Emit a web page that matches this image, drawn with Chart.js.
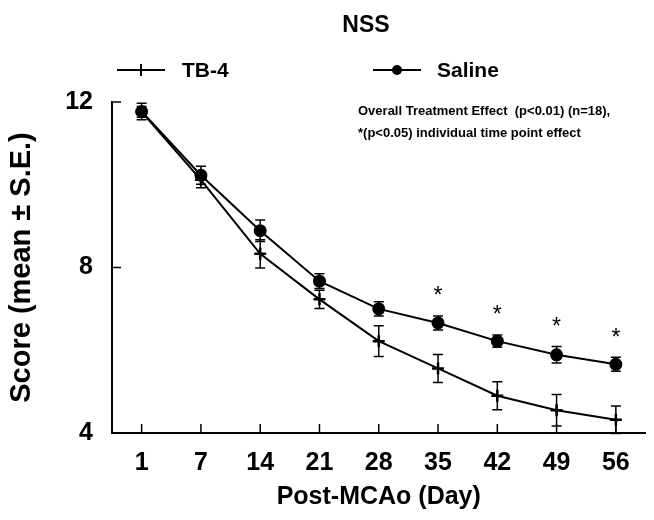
<!DOCTYPE html>
<html lang="en">
<head>
    <meta charset="UTF-8">
    <title>NSS</title>
    <script src="https://cdn.jsdelivr.net/npm/chart.js"></script>
    <style>
        body {
            margin: 0;
            background: #fff;
        }
        #nssChart {
            display: block;
        }
    </style>
</head>
<body>
    <canvas id="nssChart" width="654" height="520"></canvas>

    <script>
        // values
        const days = ['1', '7', '14', '21', '28', '35', '42', '49', '56'];
        const tb4Mean = [11.76, 10.12, 8.33, 7.23, 6.22, 5.56, 4.90, 4.55, 4.32];
        const tb4SE = [0.13, 0.19, 0.34, 0.22, 0.37, 0.34, 0.34, 0.38, 0.33];
        const salineMean = [11.77, 10.23, 8.89, 7.67, 7.00, 6.66, 6.22, 5.89, 5.66];
        const salineSE = [0.20, 0.22, 0.26, 0.18, 0.17, 0.17, 0.15, 0.20, 0.17];
        const significant = [false, false, false, false, false, true, true, true, true];
        const yTicks = [4, 8, 12];

        const FONT = "'Liberation Sans', Arial, sans-serif";

        const errorBars = {
            id: 'errorBars',
            beforeDatasetsDraw(chart) {
                const ctx = chart.ctx;
                const x = chart.scales.x, y = chart.scales.y;
                const series = [[tb4Mean, tb4SE], [salineMean, salineSE]];
                ctx.save();
                ctx.strokeStyle = '#000';
                ctx.lineWidth = 1.5;
                series.forEach(([mean, se]) => {
                    mean.forEach((m, i) => {
                        const px = x.getPixelForValue(i);
                        const top = y.getPixelForValue(m + se[i]);
                        const bot = y.getPixelForValue(m - se[i]);
                        ctx.beginPath();
                        ctx.moveTo(px, top); ctx.lineTo(px, bot);
                        ctx.moveTo(px - 5, top); ctx.lineTo(px + 5, top);
                        ctx.moveTo(px - 5, bot); ctx.lineTo(px + 5, bot);
                        ctx.stroke();
                    });
                });
                ctx.restore();
            },
            afterDraw(chart) {
                const ctx = chart.ctx;
                const x = chart.scales.x, y = chart.scales.y;
                const area = chart.chartArea;
                ctx.save();
                ctx.strokeStyle = '#000';
                ctx.fillStyle = '#000';
                ctx.lineWidth = 1.5;

                // inward tick marks
                ctx.beginPath();
                days.forEach((d, i) => {
                    const px = x.getPixelForValue(i);
                    ctx.moveTo(px, area.bottom); ctx.lineTo(px, area.bottom - 9);
                });
                yTicks.forEach(v => {
                    const py = y.getPixelForValue(v);
                    ctx.moveTo(area.left, py); ctx.lineTo(area.left + 9, py);
                });
                ctx.stroke();

                // asterisks over saline
                ctx.font = '23px ' + FONT;
                ctx.textAlign = 'center';
                ctx.textBaseline = 'middle';
                significant.forEach((s, i) => {
                    if (!s) return;
                    const px = x.getPixelForValue(i);
                    const py = y.getPixelForValue(salineMean[i] + salineSE[i]) - 24;
                    ctx.fillText('*', px, py + 5);
                });

                // title
                ctx.font = 'bold 23px ' + FONT;
                ctx.fillText('NSS', 366, 26);

                // legend
                ctx.lineWidth = 2;
                ctx.beginPath();
                ctx.moveTo(117, 70); ctx.lineTo(165, 70);
                ctx.moveTo(141, 64); ctx.lineTo(141, 76);
                ctx.moveTo(135, 70); ctx.lineTo(147, 70);
                ctx.moveTo(373, 70); ctx.lineTo(421, 70);
                ctx.stroke();
                ctx.beginPath();
                ctx.arc(397, 70, 5, 0, Math.PI * 2);
                ctx.fill();
                ctx.font = 'bold 21px ' + FONT;
                ctx.textAlign = 'left';
                ctx.fillText('TB-4', 182, 71);
                ctx.fillText('Saline', 437, 71);

                // note
                ctx.font = 'bold 13px ' + FONT;
                ctx.fillText('Overall Treatment Effect  (p<0.01) (n=18),', 358, 111);
                ctx.fillText('*(p<0.05) individual time point effect', 358, 133);
                ctx.restore();
            }
        };

        new Chart(document.getElementById('nssChart'), {
            type: 'line',
            data: {
                labels: days,
                datasets: [{
                    label: 'TB-4',
                    data: tb4Mean,
                    borderColor: '#000',
                    backgroundColor: '#000',
                    borderWidth: 2,
                    pointStyle: 'cross',
                    pointRadius: 6,
                    pointBorderWidth: 2.5,
                    tension: 0
                }, {
                    label: 'Saline',
                    data: salineMean,
                    borderColor: '#000',
                    backgroundColor: '#000',
                    borderWidth: 2,
                    pointStyle: 'circle',
                    pointRadius: 5.5,
                    tension: 0
                }]
            },
            options: {
                responsive: false,
                animation: false,
                layout: { padding: { top: 102, right: 7, left: 0, bottom: 0 } },
                plugins: {
                    legend: { display: false },
                    title: { display: false },
                    tooltip: { enabled: false }
                },
                scales: {
                    x: {
                        offset: true,
                        grid: { display: false, drawTicks: false },
                        border: { display: true, color: '#000', width: 2 },
                        ticks: {
                            color: '#000',
                            padding: 15,
                            font: { family: FONT, size: 25, weight: 'bold' }
                        },
                        title: {
                            display: true,
                            text: 'Post-MCAo (Day)',
                            color: '#000',
                            padding: { top: 0, bottom: 8 },
                            font: { family: FONT, size: 25, weight: 'bold' }
                        },
                        afterFit(scale) { scale.height = 87; }
                    },
                    y: {
                        min: 4,
                        max: 12,
                        afterBuildTicks(scale) { scale.ticks = yTicks.map(v => ({ value: v })); },
                        grid: { display: false, drawTicks: false },
                        border: { display: true, color: '#000', width: 2 },
                        ticks: {
                            color: '#000',
                            padding: 19,
                            font: { family: FONT, size: 25, weight: 'bold' }
                        },
                        title: {
                            display: true,
                            text: 'Score (mean ± S.E.)',
                            color: '#000',
                            padding: { top: 5, bottom: 0 },
                            font: { family: FONT, size: 29, weight: 'bold' }
                        },
                        afterFit(scale) { scale.width = 112; }
                    }
                }
            },
            plugins: [errorBars]
        });
    </script>
</body>
</html>
